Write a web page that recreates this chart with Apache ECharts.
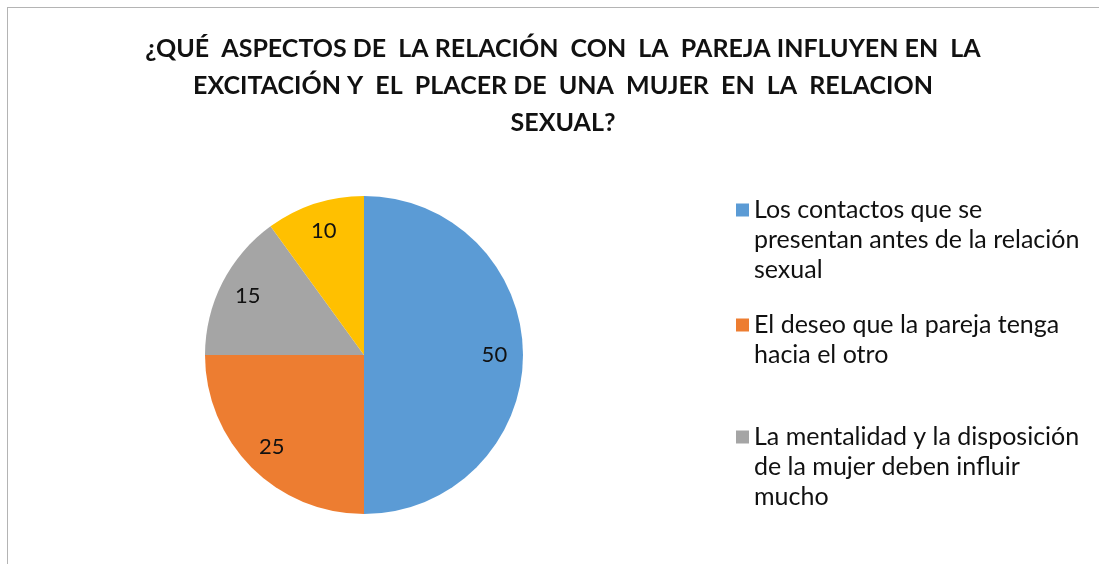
<!DOCTYPE html>
<html>
<head>
<meta charset="utf-8">
<script src="https://cdn.jsdelivr.net/npm/echarts@6/dist/echarts.min.js"></script>
<style>
html,body{margin:0;padding:0;background:#fff;overflow:hidden;}
#frame{position:absolute;left:7px;top:7px;width:3000px;height:3000px;border-left:1px solid #b4b4b4;border-top:1px solid #b4b4b4;}
#chart{position:absolute;left:0;top:0;width:1099px;height:564px;}
</style>
</head>
<body>
<div id="frame"></div>
<div id="chart"></div>
<script>
// ---- data ----
const titleLines = [
  '¿QUÉ  ASPECTOS DE  LA RELACIÓN  CON  LA  PAREJA INFLUYEN EN  LA',
  'EXCITACIÓN Y  EL  PLACER DE  UNA  MUJER  EN  LA  RELACION',
  'SEXUAL?'
];
const categories = [
  'Los contactos que se presentan antes de la relación sexual',
  'El deseo que la pareja tenga hacia el otro',
  'La mentalidad y la disposición de la mujer deben influir mucho',
  'Otros'
];
const values = [50, 25, 15, 10];
const colors = ['#5B9BD5', '#ED7D31', '#A5A5A5', '#FFC000'];
// legend entries shown (the 4th did not fit in the original legend)
const legendLines = [
  ['Los contactos que se', 'presentan antes de la relación', 'sexual'],
  ['El deseo que la pareja tenga', 'hacia el otro'],
  ['La mentalidad y la disposición', 'de la mujer deben influir', 'mucho']
];
const legendIconCenters = [210, 325, 437];

const FONT = 'Lato';
const LH = 30;
const chart = echarts.init(document.getElementById('chart'), null, {renderer: 'canvas'});

const legends = legendLines.map((lines, i) => {
  const n = lines.length;
  // blank lines in front so that the first real line sits level with the icon
  const txt = new Array(n - 1).fill('').concat(lines).join('\n');
  return {
    data: [categories[i]],
    left: 736,
    top: legendIconCenters[i] - (2 * n - 1) * LH / 2,
    padding: 0,
    orient: 'vertical',
    icon: 'rect',
    itemWidth: 13,
    itemHeight: 13,
    itemGap: 0,
    selectedMode: false,
    formatter: () => txt,
    textStyle: {
      fontFamily: FONT,
      fontSize: 25,
      color: '#111',
      lineHeight: LH
    }
  };
});

chart.setOption({
  animation: false,
  color: colors,
  title: {
    text: titleLines.join('\n'),
    left: 558,
    top: 25,
    textAlign: 'center',
    textStyle: {
      fontFamily: FONT,
      fontWeight: 'bold',
      fontSize: 25,
      lineHeight: 37,
      color: '#111'
    }
  },
  legend: legends,
  series: [{
    type: 'pie',
    center: [364, 355],
    radius: 159,
    startAngle: 90,
    clockwise: true,
    silent: true,
    data: categories.map((c, i) => ({name: c, value: values[i]})),
    itemStyle: {borderWidth: 0},
    label: {
      show: true,
      position: 'inside',
      formatter: '{c}',
      fontFamily: FONT,
      fontSize: 22,
      color: '#111'
    },
    labelLine: {show: false},
    labelLayout: function (params) {
      const data = chart.getModel().getSeriesByIndex(0).getData();
      const l = data.getItemLayout(params.dataIndex);
      const mid = (l.startAngle + l.endAngle) / 2;
      const k = 0.82 * l.r;
      return {
        x: l.cx + k * Math.cos(mid),
        y: l.cy + k * Math.sin(mid),
        align: 'center',
        verticalAlign: 'middle'
      };
    }
  }]
});
</script>
</body>
</html>
